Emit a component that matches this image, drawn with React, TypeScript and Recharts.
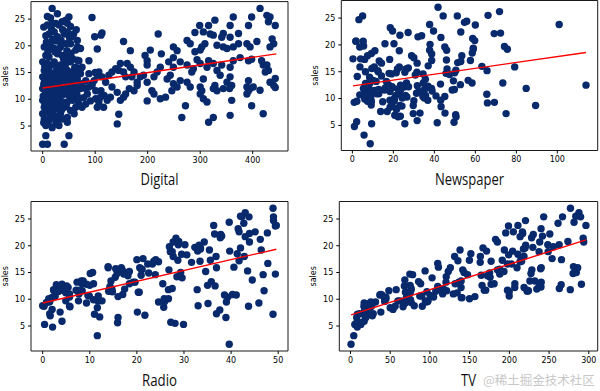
import { ScatterChart, Scatter, XAxis, YAxis, ReferenceArea, Label } from 'recharts';

// Advertising data (TV / radio / newspaper spend vs sales)
const tv = [
  230.1, 44.5, 17.2, 151.5, 180.8, 8.7, 57.5, 120.2, 8.6, 199.8,
  66.1, 214.7, 23.8, 97.5, 204.1, 195.4, 67.8, 281.4, 69.2, 147.3,
  218.4, 237.4, 13.2, 228.3, 62.3, 262.9, 142.9, 240.1, 248.8, 70.6,
  292.9, 112.9, 97.2, 265.6, 95.7, 290.7, 266.9, 74.7, 43.1, 228,
  202.5, 177, 293.6, 206.9, 25.1, 175.1, 89.7, 239.9, 227.2, 66.9,
  199.8, 100.4, 216.4, 182.6, 262.7, 198.9, 7.3, 136.2, 210.8, 210.7,
  53.5, 261.3, 239.3, 102.7, 131.1, 69, 31.5, 139.3, 237.4, 216.8,
  199.1, 109.8, 26.8, 129.4, 213.4, 16.9, 27.5, 120.5, 5.4, 116,
  76.4, 239.8, 75.3, 68.4, 213.5, 193.2, 76.3, 110.7, 88.3, 109.8,
  134.3, 28.6, 217.7, 250.9, 107.4, 163.3, 197.6, 184.9, 289.7, 135.2,
  222.4, 296.4, 280.2, 187.9, 238.2, 137.9, 25, 90.4, 13.1, 255.4,
  225.8, 241.7, 175.7, 209.6, 78.2, 75.1, 139.2, 76.4, 125.7, 19.4,
  141.3, 18.8, 224, 123.1, 229.5, 87.2, 7.8, 80.2, 220.3, 59.6,
  0.7, 265.2, 8.4, 219.8, 36.9, 48.3, 25.6, 273.7, 43, 184.9,
  73.4, 193.7, 220.5, 104.6, 96.2, 140.3, 240.1, 243.2, 38, 44.7,
  280.7, 121, 197.6, 171.3, 187.8, 4.1, 93.9, 149.8, 11.7, 131.7,
  172.5, 85.7, 188.4, 163.5, 117.2, 234.5, 17.9, 206.8, 215.4, 284.3,
  50, 164.5, 19.6, 168.4, 222.4, 276.9, 248.4, 170.2, 276.7, 165.6,
  156.6, 218.5, 56.2, 287.6, 253.8, 205, 139.5, 191.1, 286, 18.7,
  39.5, 75.5, 17.2, 166.8, 149.7, 38.2, 94.2, 177, 283.6, 232.1,
];

const radio = [
  37.8, 39.3, 45.9, 41.3, 10.8, 48.9, 32.8, 19.6, 2.1, 2.6,
  5.8, 24, 35.1, 7.6, 32.9, 47.7, 36.6, 39.6, 20.5, 23.9,
  27.7, 5.1, 15.9, 16.9, 12.6, 3.5, 29.3, 16.7, 27.1, 16,
  28.3, 17.4, 1.5, 20, 1.4, 4.1, 43.8, 49.4, 26.7, 37.7,
  22.3, 33.4, 27.7, 8.4, 25.7, 22.5, 9.9, 41.5, 15.8, 11.7,
  3.1, 9.6, 41.7, 46.2, 28.8, 49.4, 28.1, 19.2, 49.6, 29.5,
  2, 42.7, 15.5, 29.6, 42.8, 9.3, 24.6, 14.5, 27.5, 43.9,
  30.6, 14.3, 33, 5.7, 24.6, 43.7, 1.6, 28.5, 29.9, 7.7,
  26.7, 4.1, 20.3, 44.5, 43, 18.4, 27.5, 40.6, 25.5, 47.8,
  4.9, 1.5, 33.5, 36.5, 14, 31.6, 3.5, 21, 42.3, 41.7,
  4.3, 36.3, 10.1, 17.2, 34.3, 46.4, 11, 0.3, 0.4, 26.9,
  8.2, 38, 15.4, 20.6, 46.8, 35, 14.3, 0.8, 36.9, 16,
  26.8, 21.7, 2.4, 34.6, 32.3, 11.8, 38.9, 0, 49, 12,
  39.6, 2.9, 27.2, 33.5, 38.6, 47, 39, 28.9, 25.9, 43.9,
  17, 35.4, 33.2, 5.7, 14.8, 1.9, 7.3, 49, 40.3, 25.8,
  13.9, 8.4, 23.3, 39.7, 21.1, 11.6, 43.5, 1.3, 36.9, 18.4,
  18.1, 35.8, 18.1, 36.8, 14.7, 3.4, 37.6, 5.2, 23.6, 10.6,
  11.6, 20.9, 20.1, 7.1, 3.4, 48.9, 30.2, 7.8, 2.3, 10,
  2.6, 5.4, 5.7, 43, 21.3, 45.1, 2.1, 28.7, 13.9, 12.1,
  41.1, 10.8, 4.1, 42, 35.6, 3.7, 4.9, 9.3, 42, 8.6,
];

const newspaper = [
  69.2, 45.1, 69.3, 58.5, 58.4, 75, 23.5, 11.6, 1, 21.2,
  24.2, 4, 65.9, 7.2, 46, 52.9, 114, 55.8, 18.3, 19.1,
  53.4, 23.5, 49.6, 26.2, 18.3, 19.5, 12.6, 22.9, 22.9, 40.8,
  43.2, 38.6, 30, 0.3, 7.4, 8.5, 5, 45.7, 35.1, 32,
  31.6, 38.7, 1.8, 26.4, 43.3, 31.5, 35.7, 18.5, 49.9, 36.8,
  34.6, 3.6, 39.6, 58.7, 15.9, 60, 41.4, 16.6, 37.7, 9.3,
  21.4, 54.7, 27.3, 8.4, 28.9, 0.9, 2.2, 10.2, 11, 27.2,
  38.7, 31.7, 19.3, 31.3, 13.1, 89.4, 20.7, 14.2, 9.4, 23.1,
  22.3, 36.9, 32.5, 35.6, 33.8, 65.7, 16, 63.2, 73.4, 51.4,
  9.3, 33, 59, 72.3, 10.9, 52.9, 5.9, 22, 51.2, 45.9,
  49.8, 100.9, 21.4, 17.9, 5.3, 59, 29.7, 23.2, 25.6, 5.5,
  56.5, 23.2, 2.4, 10.7, 34.5, 52.7, 25.6, 14.8, 79.2, 22.3,
  46.2, 50.4, 15.6, 12.4, 74.2, 25.9, 50.6, 9.2, 3.2, 43.1,
  8.7, 43, 2.1, 45.1, 65.6, 8.5, 9.3, 59.7, 20.5, 1.7,
  12.9, 75.6, 37.9, 34.4, 38.9, 9, 8.7, 44.3, 11.9, 20.6,
  37, 48.7, 14.2, 37.7, 9.5, 5.7, 50.5, 24.3, 45.2, 34.6,
  30.7, 49.3, 25.6, 7.4, 5.4, 84.8, 21.6, 19.4, 57.6, 6.4,
  18.4, 47.4, 17, 12.8, 13.1, 41.8, 20.3, 35.2, 23.7, 17.6,
  8.3, 27.4, 29.7, 71.8, 30, 19.6, 26.6, 18.2, 3.7, 23.4,
  5.8, 6, 31.6, 3.6, 6, 13.8, 8.1, 6.4, 66.2, 8.7,
];

const sales = [
  22.1, 10.4, 9.3, 18.5, 12.9, 7.2, 11.8, 13.2, 4.8, 10.6,
  8.6, 17.4, 9.2, 9.7, 19, 22.4, 12.5, 24.4, 11.3, 14.6,
  18, 12.5, 5.6, 15.5, 9.7, 12, 15, 15.9, 18.9, 10.5,
  21.4, 11.9, 9.6, 17.4, 9.5, 12.8, 25.4, 14.7, 10.1, 21.5,
  16.6, 17.1, 20.7, 12.9, 8.5, 14.9, 10.6, 23.2, 14.8, 9.7,
  11.4, 10.7, 22.6, 21.2, 20.2, 23.7, 5.5, 13.2, 23.8, 18.4,
  8.1, 24.2, 15.7, 14, 18, 9.3, 9.5, 13.4, 18.9, 22.3,
  18.3, 12.4, 8.8, 11, 17, 8.7, 6.9, 14.2, 5.3, 11,
  11.8, 12.3, 11.3, 13.6, 21.7, 15.2, 12, 16, 12.9, 16.7,
  11.2, 7.3, 19.4, 22.2, 11.5, 16.9, 11.7, 15.5, 25.4, 17.2,
  11.7, 23.8, 14.8, 14.7, 20.7, 19.2, 7.2, 8.7, 5.3, 19.8,
  13.4, 21.8, 14.1, 15.9, 14.6, 12.6, 12.2, 9.4, 15.9, 6.6,
  15.5, 7, 11.6, 15.2, 19.7, 10.6, 6.6, 8.8, 24.7, 9.7,
  1.6, 12.7, 5.7, 19.6, 10.8, 11.6, 9.5, 20.8, 9.6, 20.7,
  10.9, 19.2, 20.1, 10.4, 11.4, 10.3, 13.2, 25.4, 10.9, 10.1,
  16.1, 11.6, 16.6, 19, 15.6, 3.2, 15.3, 10.1, 7.3, 12.9,
  14.4, 13.3, 14.9, 18, 11.9, 11.9, 8, 12.2, 17.1, 15,
  8.4, 14.5, 7.6, 11.7, 11.5, 27, 20.2, 11.7, 11.8, 12.6,
  10.5, 12.2, 8.7, 26.2, 17.6, 22.6, 10.3, 17.3, 15.9, 6.7,
  10.8, 9.9, 5.9, 19.6, 17.3, 7.6, 9.7, 12.8, 25.5, 13.4,
];

// Digital spend vs sales (separate, larger sample)
const digital = [
  18, 28, 9, 15, 9, 18, 25, 31, 37, 47, 53, 6, 12, 22, 28, 41, 47, 59,
  3, 15, 22, 34, 44, 53, 66, 6, 12, 28, 37, 47, 57, 0, 9, 22, 34, 44, 53, 66,
  3, 12, 25, 37, 47, 57, 72, 0, 9, 22, 34, 47, 57, 66, 3, 15, 28, 41, 53, 63, 75,
  0, 9, 22, 31, 44, 57, 69, 6, 15, 28, 37, 50, 60, 0, 12, 25, 34, 47, 57, 69,
  3, 15, 28, 41, 53, 63, 0, 9, 22, 34, 47, 60, 3, 12, 25, 37, 47, 6, 18, 31,
  6, 50, 0, 9, 41,
  5, 10, 18, 26, 33, 40, 48, 55, 62, 8, 20, 30, 45, 52, 16, 38, 24, 12, 2, 58,
  65, 70, 36, 42, 27, 4, 14, 50, 61, 19, 31, 44, 11, 23, 35, 46, 7, 17, 26, 54,
  40, 2, 64, 1, 7, 13, 17, 21, 29, 33, 39, 43, 49, 56, 60, 67, 4, 10, 19, 30,
  38, 51, 24, 14, 27, 36, 2, 10, 20,
  94, 99, 104, 113, 111, 154, 167, 220, 226, 205, 195, 199, 249, 256, 275, 290,
  299, 306, 316, 319, 328, 344, 341, 357, 363, 357, 373, 392, 398, 414, 427, 433,
  430, 443, 437, 440, 433, 408, 389, 395, 373, 363, 351, 344, 332, 325, 309, 303,
  300, 290, 281,
  249, 240, 249, 262, 275, 284, 287, 294, 300, 313, 316, 325, 332, 338, 341, 357,
  363, 376, 392, 398, 427, 430, 424, 443, 433, 392, 389, 395, 357, 351, 360, 356,
  328, 325, 332, 344, 306, 300, 303, 275, 281, 262, 249, 256, 243, 237, 224, 218,
  212, 199, 192, 199, 186, 180, 174, 170, 167, 161,
  208, 212, 199, 234, 224, 246, 272, 265, 306, 313, 300, 325, 316, 360, 357, 398,
  392, 401, 389, 414, 420, 440, 443, 420, 417,
  174, 165, 180, 158, 154, 142, 148, 145, 142, 132, 129, 123, 111, 117, 107, 104,
  91, 82, 75, 132, 126, 120, 139, 145, 148, 154, 158, 107, 113, 98, 88, 94, 101,
  72, 82, 72, 69, 63, 63, 72, 66, 57, 50, 44, 88, 100, 104, 82, 85, 78, 88, 75,
  94, 101, 110, 116,
];

const digitalSales = [
  27.0, 26.0, 25.5, 25.2, 23.9, 24.2, 24.2, 23.9, 24.5, 24.2, 23.6, 21.9, 22.2, 22.6, 21.7, 22.2, 22.6, 22.2,
  19.8, 20.1, 19.5, 19.8, 20.4, 20.4, 19.8, 18.2, 17.9, 18.5, 18.2, 17.9, 17.6, 17.0, 16.7, 17.0, 16.4, 16.7, 17.0, 17.3,
  15.4, 15.7, 15.1, 15.4, 15.4, 15.1, 15.7, 14.2, 14.5, 13.8, 14.2, 14.2, 14.5, 13.8, 13.2, 12.9, 13.2, 12.6, 12.9, 13.2, 12.9,
  12.0, 12.3, 11.6, 12.3, 12.0, 11.6, 12.0, 10.7, 11.0, 10.4, 11.0, 10.7, 10.4, 9.8, 9.5, 9.8, 9.1, 9.5, 9.8, 9.1,
  8.5, 8.8, 8.2, 8.5, 7.9, 8.5, 7.3, 7.6, 7.0, 7.3, 6.6, 7.3, 6.3, 6.0, 5.4, 6.3, 5.7, 5.1, 4.7, 5.1,
  3.2, 3.2, 1.6, 1.6, 1.6,
  11.5, 13.5, 10.2, 12.8, 9.8, 13.8, 11.3, 13.6, 9.9, 8.0, 14.8, 16.0, 8.9, 14.9, 12.2, 10.8, 9.0, 10.9, 12.7, 12.4,
  11.0, 10.2, 12.9, 14.9, 11.5, 9.3, 13.9, 12.3, 15.9, 7.9, 6.8, 11.9, 16.3, 18.9, 21.0, 19.1, 20.7, 23.1, 20.9, 18.6,
  17.5, 23.5, 23.0, 10.6, 12.9, 8.3, 14.4, 10.9, 14.7, 11.8, 9.4, 15.8, 13.4, 10.9, 12.8, 14.9, 16.2, 19.0, 21.2, 19.3,
  23.0, 21.5, 16.3, 6.8, 6.1, 8.0, 5.6, 5.4, 6.5,
  25.3, 21.7, 19.4, 22.4, 22.0, 20.8, 19.1, 22.2, 18.5, 19.2, 18.2, 17.2, 19.8, 19.1, 21.0, 22.5,
  23.8, 22.6, 23.8, 22.2, 24.8, 22.3, 21.6, 23.8, 25.4, 21.6, 22.3, 23.8, 25.4, 27.0, 25.7, 25.4,
  24.5, 23.8, 21.3, 20.4, 19.8, 20.8, 20.4, 19.8, 20.4, 19.8, 19.5, 19.8, 20.1, 22.0, 20.4, 19.8,
  19.2, 18.9, 20.4,
  17.8, 17.0, 16.0, 17.0, 16.4, 15.1, 15.7, 17.4, 16.7, 16.0, 17.2, 16.7, 15.4, 14.5, 16.4, 16.0,
  17.2, 17.8, 17.2, 17.5, 16.4, 15.4, 15.1, 13.9, 13.2, 13.5, 12.3, 12.0, 14.2, 13.2, 12.6, 12.0,
  12.6, 12.0, 11.6, 12.0, 13.8, 12.3, 11.6, 13.2, 12.3, 13.5, 12.9, 12.3, 14.5, 13.8, 16.0, 15.1,
  14.2, 16.4, 14.5, 13.2, 14.2, 13.2, 15.1, 14.2, 16.0, 16.7,
  11.6, 11.0, 9.7, 10.4, 10.1, 11.6, 8.8, 6.6, 10.1, 9.5, 11.0, 6.6, 5.7, 9.8, 7.0, 8.8,
  11.6, 12.3, 11.0, 11.7, 7.3, 12.6, 12.2, 16.4, 17.2,
  11.6, 12.0, 12.6, 11.0, 10.4, 11.3, 9.8, 7.2, 5.4, 12.3, 10.4, 9.8, 11.6, 10.7, 9.5, 8.5,
  9.7, 9.1, 8.5, 15.1, 14.5, 13.2, 15.7, 15.4, 16.7, 15.1, 14.2, 15.1, 14.2, 13.5, 12.3, 12.9, 11.6,
  14.8, 13.5, 12.0, 17.2, 16.0, 19.2, 19.5, 21.0, 21.7, 25.4, 24.8, 17.2, 15.0, 14.5, 12.0, 11.0, 10.3, 14.8, 16.0,
  12.6, 10.1, 10.4, 8.5,
];

// fitted regression lines (endpoints)
const digitalFit = [{ x: 0, y: 12.1 }, { x: 445, y: 18.5 }];
const newspaperFit = [{ x: 0.3, y: 12.37 }, { x: 114, y: 18.59 }];
const radioFit = [{ x: 0, y: 9.31 }, { x: 49.6, y: 19.35 }];
const tvFit = [{ x: 0.7, y: 7.07 }, { x: 296.4, y: 21.11 }];

const yTicks = [5, 10, 15, 20, 25];
const yDomain: [number, number] = [0.33, 28.27];

const toPoints = (xs: number[], ys: number[]) => xs.map((x, i) => ({ x, y: ys[i] }));

const DOT = '#08296b';
const TICK_FONT = { fontSize: 8, fill: '#000', fontFamily: 'DejaVu Sans' };

const Dot = (props: any) => {
  const { cx, cy } = props;
  if (cx == null || cy == null) return <g />;
  return <circle cx={cx} cy={cy} r={3.7} fill={DOT} />;
};
const NoDot = () => <g />;

interface PanelProps {
  title: string;
  titleWidth: number;
  points: { x: number; y: number }[];
  fit: { x: number; y: number }[];
  xDomain: [number, number];
  xTicks: number[];
  left: number;
  top: number;
  height: number;
  plotTop: number;
  plotLeft: number;
  plotRight: number;
  axisHeight: number;
  titleOffset: number;
  salesX: number;
}

function Panel(p: PanelProps) {
  return (
    <div style={{ position: 'absolute', left: p.left, top: p.top }}>
      <ScatterChart
        width={300}
        height={p.height}
        margin={{ top: p.plotTop, right: p.plotRight, bottom: 0, left: 0 }}
      >
        <XAxis
          type="number"
          dataKey="x"
          domain={p.xDomain}
          ticks={p.xTicks}
          interval={0}
          allowDataOverflow
          height={p.axisHeight}
          axisLine={false}
          tickSize={3}
          tickMargin={3}
          tickLine={{ stroke: '#000' }}
          tick={TICK_FONT}
        >
          <Label
            content={({ viewBox }: any) => (
              <text
                x={viewBox.x + viewBox.width / 2}
                y={viewBox.y + viewBox.height - p.titleOffset}
                textAnchor="middle"
                fontSize={16}
                textLength={p.titleWidth}
                lengthAdjust="spacingAndGlyphs"
                fontFamily="'Open Sans', sans-serif"
                fill="#111"
              >
                {p.title}
              </text>
            )}
          />
        </XAxis>
        <YAxis
          type="number"
          dataKey="y"
          domain={yDomain}
          ticks={yTicks}
          interval={0}
          allowDataOverflow
          width={p.plotLeft}
          axisLine={false}
          tickSize={3}
          tickMargin={3}
          tickLine={{ stroke: '#000' }}
          tick={TICK_FONT}
        >
          <Label
            content={({ viewBox }: any) => {
              const cy = viewBox.y + viewBox.height / 2;
              return (
                <text
                  x={p.salesX}
                  y={cy}
                  transform={`rotate(-90 ${p.salesX} ${cy})`}
                  textAnchor="middle"
                  fontSize={8}
                  fontFamily="DejaVu Sans"
                  fill="#000"
                >
                  sales
                </text>
              );
            }}
          />
        </YAxis>
        <Scatter data={p.points} shape={Dot} isAnimationActive={false} />
        <Scatter
          data={p.fit}
          shape={NoDot}
          line={{ stroke: '#ff0000', strokeWidth: 1.4 }}
          isAnimationActive={false}
        />
        <ReferenceArea
          x1={p.xDomain[0]}
          x2={p.xDomain[1]}
          y1={yDomain[0]}
          y2={yDomain[1]}
          fill="none"
          stroke="#1a1a1a"
          strokeWidth={1}
          ifOverflow="visible"
        />
      </ScatterChart>
    </div>
  );
}

export default function App() {
  return (
    <div style={{ position: 'absolute', left: 0, top: 0, width: 600, height: 391, background: '#fff', overflow: 'hidden' }}>
      <Panel
        title="Digital"
        titleWidth={38}
        points={toPoints(digital, digitalSales)}
        fit={digitalFit}
        xDomain={[-22.25, 467.25]}
        xTicks={[0, 100, 200, 300, 400]}
        left={0}
        top={0}
        height={195}
        plotTop={1.6}
        plotLeft={31}
        plotRight={12}
        axisHeight={44}
        titleOffset={10}
        salesX={8}
      />
      <Panel
        title="Newspaper"
        titleWidth={69}
        points={toPoints(newspaper, sales)}
        fit={newspaperFit}
        xDomain={[-5.4, 119.7]}
        xTicks={[0, 20, 40, 60, 80, 100]}
        left={300}
        top={0}
        height={195}
        plotTop={0.5}
        plotLeft={41.3}
        plotRight={2.3}
        axisHeight={44.5}
        titleOffset={10}
        salesX={18}
      />
      <Panel
        title="Radio"
        titleWidth={35}
        points={toPoints(radio, sales)}
        fit={radioFit}
        xDomain={[-2.48, 52.08]}
        xTicks={[0, 10, 20, 30, 40, 50]}
        left={0}
        top={195}
        height={196}
        plotTop={6.5}
        plotLeft={31}
        plotRight={12}
        axisHeight={40}
        titleOffset={5}
        salesX={8}
      />
      <Panel
        title="TV"
        titleWidth={15}
        points={toPoints(tv, sales)}
        fit={tvFit}
        xDomain={[-14.1, 311.2]}
        xTicks={[0, 50, 100, 150, 200, 250, 300]}
        left={300}
        top={195}
        height={196}
        plotTop={6.5}
        plotLeft={39.3}
        plotRight={2.3}
        axisHeight={40}
        titleOffset={5}
        salesX={16}
      />
      <div
        style={{
          position: 'absolute',
          left: 483,
          top: 370,
          fontSize: 12.5,
          color: '#c8c8c8',
          fontFamily: "'Noto Sans CJK SC', sans-serif",
          whiteSpace: 'nowrap',
        }}
      >
        @稀土掘金技术社区
      </div>
    </div>
  );
}
